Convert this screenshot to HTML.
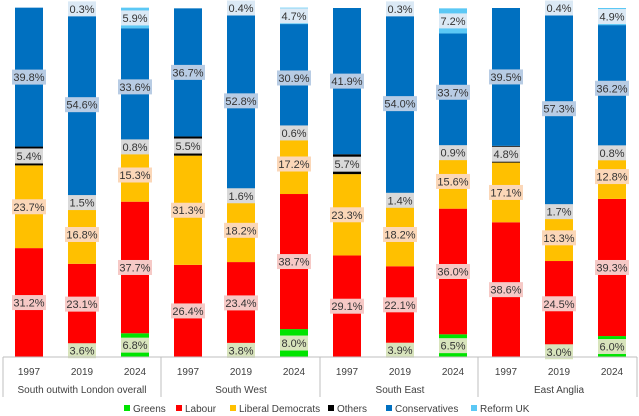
<!DOCTYPE html>
<html><head><meta charset="utf-8"><style>
body{margin:0;background:#fff;}
svg{display:block;font-family:"Liberation Sans",sans-serif;}
</style></head><body>
<svg id="chart" width="639" height="416"></svg>
<script>
const categories=["1997","2019","2024","1997","2019","2024","1997","2019","2024","1997","2019","2024"];
const groups=["South outwith London overall","South West","South East","East Anglia"];
const series=["Greens","Labour","Liberal Democrats","Others","Conservatives","Reform UK"];
const greens=[0,3.6,6.8,0,3.8,8.0,0,3.9,6.5,0,3.0,6.0];
const labour=[31.2,23.1,37.7,26.4,23.4,38.7,29.1,22.1,36.0,38.6,24.5,39.3];
const libdem=[23.7,16.8,15.3,31.3,18.2,17.2,23.3,18.2,15.6,17.1,13.3,12.8];
const others=[5.4,1.5,0.8,5.5,1.6,0.6,5.7,1.4,0.9,4.8,1.7,0.8];
const cons=[39.8,54.6,33.6,36.7,52.8,30.9,41.9,54.0,33.7,39.5,57.3,36.2];
const reform=[0,0.3,5.9,0,0.4,4.7,0,0.3,7.2,0,0.4,4.9];
const colors=["#00e400","#ff0000","#ffc000","#000000","#0070c0","#5bc8f5"];
const boxColors=["#d8e4bc","#f6c9c6","#fbd7b8","#d9d9d9","#b8cce4","#dbe9f5"];
const data=[greens,labour,libdem,others,cons,reform];
const NS="http://www.w3.org/2000/svg";
const svg=document.getElementById("chart");
const base=357, scale=3.49;
const y=v=>base-v*scale;
const xc=i=>29+i*53;
const bw=28;
function mk(tag,attrs,parent){const e=document.createElementNS(NS,tag);for(const k in attrs)e.setAttribute(k,attrs[k]);(parent||svg).appendChild(e);return e;}
const labels=[];
categories.forEach((c,i)=>{
  let cum=0;
  data.forEach((s,si)=>{
    const v=s[i];
    if(v>0){
      const r=mk("rect",{x:xc(i)-bw/2,y:y(cum+v),width:bw,height:v*scale,fill:colors[si]});
      
      
      labels.push({i,si,v,cy:y(cum+v/2)});
    }
    cum+=v;
  });
});
labels.forEach(l=>{
  const g=mk("g",{});
  
  
  const txt=l.v.toFixed(1)+"%";
  const w=txt.length>4?34:28;
  mk("rect",{x:xc(l.i)-w/2,y:l.cy-7.5,width:w,height:15,fill:boxColors[l.si]},g);
  const t=mk("text",{x:xc(l.i),y:l.cy+4,"text-anchor":"middle","font-size":"11",fill:"#333"},g);
  t.textContent=txt;
});
const ax=mk("line",{x1:3,y1:base,x2:637,y2:base,stroke:"#bfbfbf","stroke-width":1});


[3,161,320,478,637].forEach(x=>{
  const l=mk("line",{x1:x,y1:base,x2:x,y2:397,stroke:"#bfbfbf","stroke-width":1});
  
  
});
categories.forEach((c,i)=>{
  const t=mk("text",{x:xc(i),y:375,"text-anchor":"middle","font-size":"10",fill:"#404040"});
  
  
  t.textContent=c;
});
groups.forEach((g,gi)=>{
  const t=mk("text",{x:xc(gi*3+1),y:393,"text-anchor":"middle","font-size":"10",fill:"#404040"});
  
  
  t.textContent=g;
});
const legX=[124,176,230,328,386,471];
series.forEach((s,si)=>{
  const g=mk("g",{});
  
  
  mk("rect",{x:legX[si],y:405,width:6,height:6,fill:colors[si]},g);
  const t=mk("text",{x:legX[si]+9,y:412,"font-size":"10",fill:"#404040"},g);
  t.textContent=s;
});
</script>
</body></html>
